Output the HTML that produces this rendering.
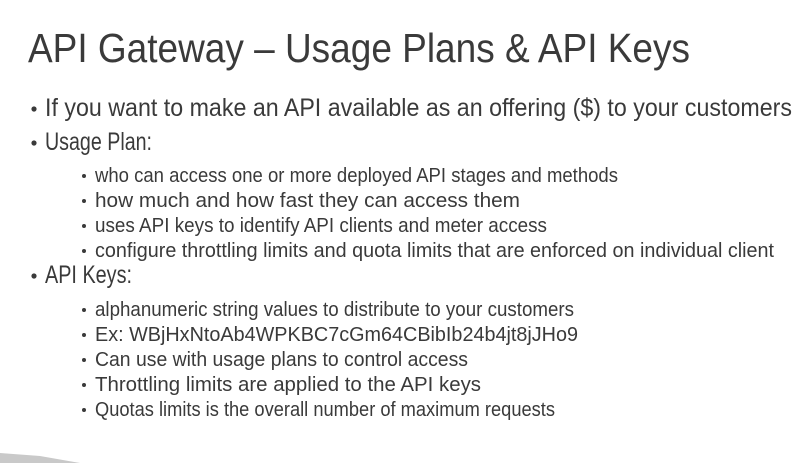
<!DOCTYPE html>
<html><head><style>
html,body{margin:0;padding:0;background:#fff;}
svg{display:block;}
text{font-family:"Liberation Sans",sans-serif;fill:#3a3a3a;}
</style></head><body>
<svg width="810" height="463" viewBox="0 0 810 463" xmlns="http://www.w3.org/2000/svg">
<rect width="810" height="463" fill="#fff"/>
<text x="28" y="62" font-size="41" textLength="662" lengthAdjust="spacingAndGlyphs">API Gateway – Usage Plans &amp; API Keys</text>

<g font-size="25">
<circle cx="34" cy="109" r="2.6" fill="#3a3a3a"/>
<text x="45" y="116" textLength="747" lengthAdjust="spacingAndGlyphs">If you want to make an API available as an offering ($) to your customers</text>
<circle cx="34" cy="143" r="2.6" fill="#3a3a3a"/>
<text x="45" y="150" textLength="107" lengthAdjust="spacingAndGlyphs">Usage Plan:</text>
<circle cx="34" cy="276" r="2.6" fill="#3a3a3a"/>
<text x="45" y="283" textLength="87" lengthAdjust="spacingAndGlyphs">API Keys:</text>
</g>

<g font-size="20">
<circle cx="84" cy="176" r="2" fill="#3a3a3a"/>
<text x="95" y="182" textLength="523" lengthAdjust="spacingAndGlyphs">who can access one or more deployed API stages and methods</text>
<circle cx="84" cy="201" r="2" fill="#3a3a3a"/>
<text x="95" y="207" textLength="425" lengthAdjust="spacingAndGlyphs">how much and how fast they can access them</text>
<circle cx="84" cy="226" r="2" fill="#3a3a3a"/>
<text x="95" y="232" textLength="452" lengthAdjust="spacingAndGlyphs">uses API keys to identify API clients and meter access</text>
<circle cx="84" cy="251" r="2" fill="#3a3a3a"/>
<text x="95" y="257" textLength="679" lengthAdjust="spacingAndGlyphs">configure throttling limits and quota limits that are enforced on individual client</text>

<circle cx="84" cy="310" r="2" fill="#3a3a3a"/>
<text x="95" y="316" textLength="479" lengthAdjust="spacingAndGlyphs">alphanumeric string values to distribute to your customers</text>
<circle cx="84" cy="335" r="2" fill="#3a3a3a"/>
<text x="95" y="341" textLength="483" lengthAdjust="spacingAndGlyphs">Ex: WBjHxNtoAb4WPKBC7cGm64CBibIb24b4jt8jJHo9</text>
<circle cx="84" cy="360" r="2" fill="#3a3a3a"/>
<text x="95" y="366" textLength="373" lengthAdjust="spacingAndGlyphs">Can use with usage plans to control access</text>
<circle cx="84" cy="385" r="2" fill="#3a3a3a"/>
<text x="95" y="391" textLength="386" lengthAdjust="spacingAndGlyphs">Throttling limits are applied to the API keys</text>
<circle cx="84" cy="410" r="2" fill="#3a3a3a"/>
<text x="95" y="416" textLength="460" lengthAdjust="spacingAndGlyphs">Quotas limits is the overall number of maximum requests</text>
</g>

<polygon points="0,453 40,456 80,463 0,463" fill="#c9c9c9"/>
</svg>
</body></html>
